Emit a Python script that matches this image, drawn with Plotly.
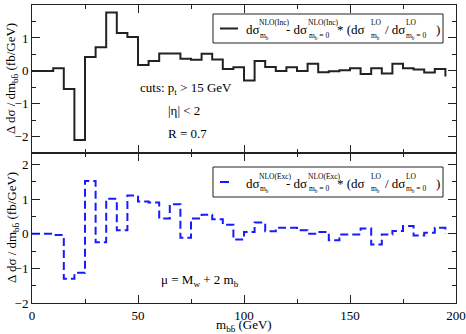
import plotly.graph_objects as go

# bin starts (GeV), values drawn as left-step histogram
bin_edges = list(range(0, 200, 5))

inc_values = [
    0.0, 0.0, 0.08, -0.55, -2.1, 0.42, 0.72, 1.77, 1.15, 1.03,
    0.18, 0.30, 0.53, 0.53, 0.37, 0.34, 0.52, 0.35, 0.06, 0.11,
    -0.29, 0.30, 0.12, 0.0, 0.11, 0.0, 0.22, -0.04, -0.01, 0.02,
    0.08, -0.09, 0.08, -0.08, 0.22, 0.08, 0.04, -0.05, 0.06, -0.17,
]

exc_values = [
    0.0, 0.0, -0.04, -1.3, -1.13, 1.52, -0.25, 1.01, 0.10, 1.10,
    0.93, 0.90, 0.44, 0.85, -0.12, 0.44, 0.55, 0.42, 0.26, -0.17,
    0.05, 0.32, 0.07, 0.17, 0.17, 0.10, 0.0, 0.05, -0.19, -0.02,
    -0.02, 0.15, -0.31, -0.02, 0.08, 0.22, -0.05, 0.03, 0.17, 0.0,
]

x_ticks = [0, 50, 100, 150, 200]
y_ticks = [-2, -1, 0, 1, 2]

W, H = 466, 334
ML, MR, MT, MB = 32, 10, 5, 31
FONT = "Liberation Serif"
LINE = "#222222"


def px(x):
    return (x - ML) / (W - ML - MR)


def py(y):
    return (H - MB - y) / (H - MT - MB)


split = py(153.3)

fig = go.Figure()

fig.add_trace(
    go.Scatter(
        x=bin_edges,
        y=inc_values,
        mode="lines",
        line=dict(color=LINE, width=2, shape="hv"),
        xaxis="x",
        yaxis="y",
        showlegend=False,
    )
)

fig.add_trace(
    go.Scatter(
        x=bin_edges,
        y=exc_values,
        mode="lines",
        line=dict(color="#1a1aff", width=2, shape="hv", dash="8px,4px"),
        xaxis="x2",
        yaxis="y2",
        showlegend=False,
    )
)

axis_common = dict(
    showline=True,
    linecolor=LINE,
    linewidth=1,
    mirror="ticks",
    ticks="inside",
    ticklen=8,
    tickwidth=1,
    tickcolor=LINE,
    showgrid=False,
    zeroline=False,
    automargin=False,
    tickfont=dict(family=FONT, size=13, color="black"),
)

minor_x = dict(dtick=25, ticks="inside", ticklen=4, tickcolor=LINE)
minor_y = dict(dtick=0.5, ticks="inside", ticklen=4, tickcolor=LINE)

fig.update_layout(
    width=W,
    height=H,
    margin=dict(l=ML, r=MR, t=MT, b=MB),
    paper_bgcolor="white",
    plot_bgcolor="white",
    font=dict(family=FONT, color="black"),
    xaxis=dict(
        axis_common,
        domain=[0, 1],
        range=[0, 200],
        tickvals=x_ticks,
        showticklabels=False,
        anchor="y",
        minor=minor_x,
    ),
    yaxis=dict(
        axis_common,
        domain=[split, 1],
        range=[-2.5, 2],
        tickvals=y_ticks,
        anchor="x",
        minor=minor_y,
    ),
    xaxis2=dict(
        axis_common,
        domain=[0, 1],
        range=[0, 200],
        tickvals=x_ticks,
        anchor="y2",
        minor=minor_x,
    ),
    yaxis2=dict(
        axis_common,
        domain=[0, split],
        range=[-2, 2.32],
        tickvals=y_ticks,
        anchor="x2",
        minor=minor_y,
    ),
)

annotations = []


def add_text(text, x, y, size=13, anchor="left", angle=0):
    annotations.append(
        dict(
            text=text,
            x=px(x),
            y=py(y),
            xref="paper",
            yref="paper",
            xanchor=anchor,
            yanchor="middle",
            showarrow=False,
            textangle=angle,
            font=dict(family=FONT, size=size, color="black"),
        )
    )


def add_legend(label, top, bottom, color, dash):
    mid = (top + bottom) / 2
    fig.add_shape(
        type="rect",
        xref="paper",
        yref="paper",
        x0=px(213),
        x1=px(443),
        y0=py(bottom),
        y1=py(top),
        line=dict(color=LINE, width=1),
        fillcolor="white",
    )
    fig.add_shape(
        type="line",
        xref="paper",
        yref="paper",
        x0=px(220),
        x1=px(238),
        y0=py(mid),
        y1=py(mid),
        line=dict(color=color, width=2, dash=dash),
    )
    main, sup, sub = mid + 1, mid - 6, mid + 7
    add_text("dσ", 244, main)
    add_text(label, 257, sup, size=7.5)
    add_text("m<sub>b</sub>", 258, sub, size=7.5)
    add_text("- dσ", 284, main)
    add_text(label, 306, sup, size=7.5)
    add_text("m<sub>b</sub> = 0", 307, sub, size=7.5)
    add_text("* (dσ", 335, main)
    add_text("LO", 369, sup, size=7.5)
    add_text("m<sub>b</sub>", 369, sub, size=7.5)
    add_text("/ dσ", 383, main)
    add_text("LO", 404, sup, size=7.5)
    add_text("m<sub>b</sub> = 0", 404, sub, size=7.5)
    add_text(")", 434, main)


add_legend("NLO(Inc)", 14, 43, LINE, "solid")
add_legend("NLO(Exc)", 167, 197, "#1a1aff", "dash")

add_text("cuts: p<sub>t</sub> > 15 GeV", 138, 88)
add_text("|η| < 2", 166, 110)
add_text("R = 0.7", 166, 133)
add_text("μ = M<sub>w</sub> + 2 m<sub>b</sub>", 159, 280)

add_text("Δ dσ / dm<sub>bb̄</sub> (fb/GeV)", 12, 79, anchor="center", angle=-90)
add_text("Δ dσ / dm<sub>bb̄</sub> (fb/GeV)", 12, 228, anchor="center", angle=-90)
add_text("m<sub>bb̄</sub> (GeV)", 244, 325.5, anchor="center")

fig.update_layout(annotations=annotations)

fig.write_html(
    "out.html",
    config={"displayModeBar": False},
    post_script="document.body.style.margin='0';",
)
